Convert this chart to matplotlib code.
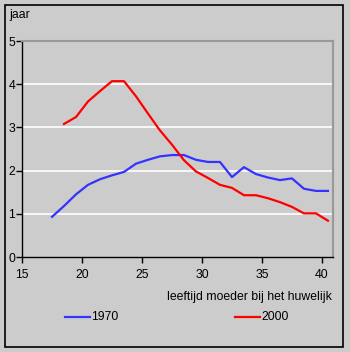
import numpy as np
import matplotlib.pyplot as plt
from matplotlib.patches import Rectangle

# leeftijd moeder bij het huwelijk (midpoints of age classes)
age_1970 = np.arange(17.5, 41, 1.0)
val_1970 = [0.93, 1.18, 1.45, 1.67, 1.80, 1.89, 1.97, 2.16, 2.25, 2.33, 2.36, 2.36,
            2.25, 2.20, 2.20, 1.85, 2.08, 1.92, 1.84, 1.78, 1.82, 1.58, 1.53, 1.53]

age_2000 = np.arange(18.5, 41, 1.0)
val_2000 = [3.08, 3.24, 3.60, 3.84, 4.07, 4.07, 3.72, 3.32, 2.93, 2.60, 2.24, 1.98,
            1.83, 1.67, 1.60, 1.43, 1.43, 1.36, 1.27, 1.16, 1.01, 1.01, 0.84]

xticks = [15, 20, 25, 30, 35, 40]
yticks = [0, 1, 2, 3, 4, 5]

plt.rcParams['font.family'] = ['Liberation Sans', 'DejaVu Sans']
bg = '#cccccc'
fs = 8.8

fig = plt.figure(figsize=(3.5, 3.52), dpi=100, facecolor=bg)
W, H = 350, 352

# outer frame
fig.patches.append(Rectangle((5 / W, 1 - 346.5 / H), 338 / W, 341.5 / H,
                             transform=fig.transFigure, fill=False,
                             edgecolor='black', linewidth=1.2))

ax = fig.add_axes([22 / W, 1 - 257 / H, 311 / W, 216 / H])
ax.set_facecolor(bg)

for y in yticks[1:-1]:
    ax.axhline(y, color='white', linewidth=1.2, zorder=1)

ax.plot(age_1970, val_1970, color='#3333ff', linewidth=1.6, zorder=3)
ax.plot(age_2000, val_2000, color='#ff0000', linewidth=1.6, zorder=3)

ax.set_xlim(15, 40.92)
ax.set_ylim(0, 5)
ax.set_xticks(xticks)
ax.set_yticks(yticks)
ax.tick_params(direction='out', length=4, width=1, labelsize=fs)
ax.tick_params(axis='x', pad=5)
ax.tick_params(axis='y', pad=1)

for s in ['top', 'right']:
    ax.spines[s].set_color('#999999')
    ax.spines[s].set_linewidth(1.5)
for s in ['left', 'bottom']:
    ax.spines[s].set_color('black')
    ax.spines[s].set_linewidth(1)

fig.text(9 / W, 1 - 15 / H, 'jaar', fontsize=fs, va='center', ha='left')
fig.text(332 / W, 1 - 297 / H, 'leeftijd moeder bij het huwelijk',
         fontsize=fs, va='center', ha='right')

# legend drawn by hand below the axes
fig.lines.append(plt.Line2D([65 / W, 90 / W], [1 - 317 / H] * 2,
                            transform=fig.transFigure, color='#3333ff', linewidth=1.6))
fig.text(91 / W, 1 - 317 / H, '1970', fontsize=fs, va='center', ha='left')
fig.lines.append(plt.Line2D([235 / W, 260 / W], [1 - 317 / H] * 2,
                            transform=fig.transFigure, color='#ff0000', linewidth=1.6))
fig.text(261 / W, 1 - 317 / H, '2000', fontsize=fs, va='center', ha='left')

fig.savefig('out.png', dpi=100, facecolor=bg)
